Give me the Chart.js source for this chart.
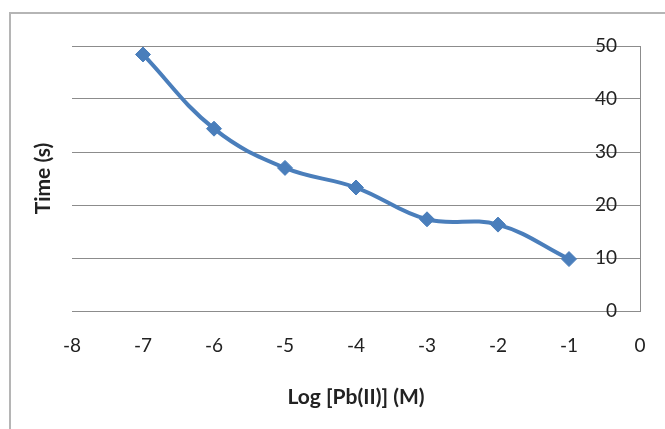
<!DOCTYPE html>
<html>
<head>
<meta charset="utf-8">
<script src="https://cdn.jsdelivr.net/npm/chart.js@4/dist/chart.umd.min.js"></script>
<style>
  html, body { margin: 0; padding: 0; background: #fff; }
  canvas { display: block; }
</style>
</head>
<body>
<canvas id="chart" width="665" height="429"></canvas>
<script>
// datos
const logConc = [-7, -6, -5, -4, -3, -2, -1];
const timeSec = [48.4, 34.4, 27.0, 23.3, 17.3, 16.3, 9.8];
const xTitle = 'Log [Pb(II)] (M)';
const yTitle = 'Time (s)';

const blue = '#4A7EBB';
const gridGray = '#8c8c8c';
const font = 'Lato, "Open Sans", sans-serif';

// marco exterior (solo izquierda y arriba visibles)
const framePlugin = {
    id: 'frame',
    beforeDraw(chart) {
        const ctx = chart.ctx;
        ctx.save();
        ctx.strokeStyle = '#b5b5b5';
        ctx.lineWidth = 2;
        ctx.strokeRect(10, 13, 700, 460);
        ctx.restore();
    }
};

const ctx = document.getElementById('chart').getContext('2d');

new Chart(ctx, {
    type: 'line',
    data: {
        datasets: [{
            data: logConc.map((x, i) => ({ x: x, y: timeSec[i] })),
            borderColor: blue,
            backgroundColor: blue,
            borderWidth: 4,
            tension: 0.4,
            pointStyle: 'rectRot',
            pointRadius: 7.5,
            pointBorderWidth: 1,
            pointBackgroundColor: blue,
            pointBorderColor: blue,
            fill: false
        }]
    },
    options: {
        responsive: false,
        animation: false,
        layout: { padding: { top: 46, left: 0, right: 0, bottom: 0 } },
        plugins: {
            legend: { display: false },
            tooltip: { enabled: false }
        },
        scales: {
            x: {
                type: 'linear',
                position: 'bottom',
                min: -8,
                max: 0,
                // marcas invisibles: empujan las etiquetas hacia abajo
                grid: {
                    display: true,
                    drawOnChartArea: false,
                    drawTicks: true,
                    tickLength: 20,
                    tickColor: 'rgba(0,0,0,0)'
                },
                border: { display: true, color: gridGray, width: 1 },
                ticks: {
                    stepSize: 1,
                    padding: 3,
                    color: '#222',
                    font: { family: font, size: 19 }
                },
                title: {
                    display: true,
                    text: xTitle,
                    color: '#222',
                    font: { family: font, size: 21, weight: 'bold' },
                    padding: { top: 0, bottom: 19 }
                },
                afterFit(scale) { scale.height = 118; }
            },
            y: {
                type: 'linear',
                position: 'right',
                min: 0,
                max: 50,
                grid: { color: gridGray, lineWidth: 1, drawTicks: false },
                border: { display: true, color: gridGray, width: 1 },
                ticks: {
                    stepSize: 10,
                    mirror: true,
                    padding: -23,
                    color: '#222',
                    font: { family: font, size: 19 }
                },
                afterFit(scale) { scale.width = 25; }
            },
            yLabel: {
                type: 'linear',
                position: 'left',
                min: 0,
                max: 50,
                grid: { display: false, drawTicks: false },
                border: { display: false },
                ticks: { display: false },
                title: {
                    display: true,
                    text: yTitle,
                    color: '#222',
                    font: { family: font, size: 21, weight: 'bold' },
                    padding: { top: 31, bottom: 0 }
                },
                afterFit(scale) { scale.width = 72; }
            }
        }
    },
    plugins: [framePlugin]
});
</script>
</body>
</html>
